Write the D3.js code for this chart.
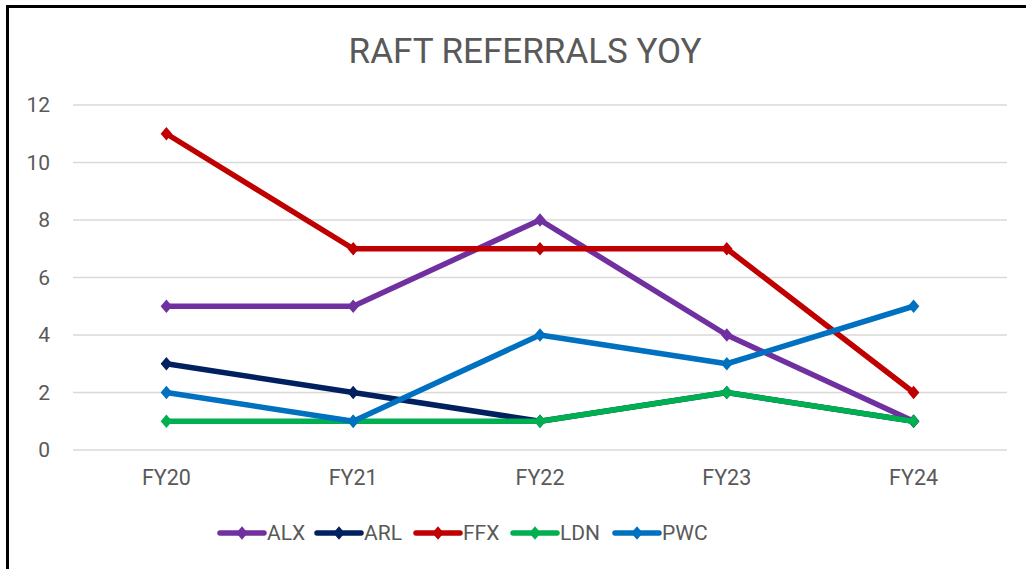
<!DOCTYPE html>
<html>
<head>
<meta charset="utf-8">
<script src="https://cdn.jsdelivr.net/npm/d3@7"></script>
<style>
  body { margin: 0; background: #fff; }
  text { font-family: Roboto, "Liberation Sans", sans-serif; fill: #595959; }
</style>
</head>
<body>
<div id="chart"></div>
<script>
// Data
const YEARS = ["FY20", "FY21", "FY22", "FY23", "FY24"];
const ALX = [5, 5, 8, 4, 1];
const ARL = [3, 2, 1, 2, 1];
const FFX = [11, 7, 7, 7, 2];
const LDN = [1, 1, 1, 2, 1];
const PWC = [2, 1, 4, 3, 5];
const Y_TICKS = [0, 2, 4, 6, 8, 10, 12];

const SERIES = [
  { name: "ALX", values: ALX, color: "#7030A0" },
  { name: "ARL", values: ARL, color: "#002060" },
  { name: "FFX", values: FFX, color: "#C00000" },
  { name: "LDN", values: LDN, color: "#00B050" },
  { name: "PWC", values: PWC, color: "#0070C0" },
];

const WIDTH = 1026, HEIGHT = 569;
const plot = { left: 73, right: 1007, top: 105, bottom: 450 };
const FONT = "Roboto, 'Liberation Sans', sans-serif";

const svg = d3.select("#chart").append("svg")
  .attr("width", WIDTH)
  .attr("height", HEIGHT);

// chart border
svg.append("rect")
  .attr("x", 7.5).attr("y", 6.5)
  .attr("width", WIDTH + 10).attr("height", HEIGHT + 10)
  .attr("fill", "#fff")
  .attr("stroke", "#000")
  .attr("stroke-width", 3);

const x = d3.scaleBand().domain(YEARS).range([plot.left, plot.right]).padding(0);
const y = d3.scaleLinear().domain([0, 12]).range([plot.bottom, plot.top]);

// title
svg.append("text")
  .attr("x", 525).attr("y", 63)
  .attr("text-anchor", "middle")
  .attr("font-size", 35)
  .text("RAFT REFERRALS YOY");

// grid
svg.append("g")
  .selectAll("line")
  .data(Y_TICKS)
  .join("line")
  .attr("x1", plot.left).attr("x2", plot.right)
  .attr("y1", (d) => y(d)).attr("y2", (d) => y(d))
  .attr("stroke", "#d9d9d9")
  .attr("stroke-width", 1.5);

// y axis labels
const yAxis = svg.append("g")
  .attr("transform", `translate(${plot.left - 23},0)`)
  .call(d3.axisLeft(y).tickValues(Y_TICKS).tickSize(0).tickPadding(0));
yAxis.select(".domain").remove();
yAxis.selectAll("text").attr("font-size", 21).attr("fill", "#595959")
  .attr("font-family", FONT);

// x axis labels
const xAxis = svg.append("g")
  .attr("transform", `translate(0,${plot.bottom + 20})`)
  .call(d3.axisBottom(x).tickSize(0).tickPadding(0));
xAxis.select(".domain").remove();
xAxis.selectAll("text").attr("font-size", 21.5).attr("fill", "#595959")
  .attr("font-family", FONT);

const cx = (i) => x(YEARS[i]) + x.bandwidth() / 2;
const line = d3.line().x((d, i) => cx(i)).y((d) => y(d));
const diamond = d3.symbol().type(d3.symbolDiamond2).size(100);

// series
const seriesG = svg.append("g")
  .selectAll("g")
  .data(SERIES)
  .join("g");

seriesG.append("path")
  .attr("d", (s) => line(s.values))
  .attr("fill", "none")
  .attr("stroke", (s) => s.color)
  .attr("stroke-width", 5.5)
  .attr("stroke-linejoin", "round")
  .attr("stroke-linecap", "round");

seriesG.selectAll("path.marker")
  .data((s) => s.values.map((v, i) => ({ v, i, color: s.color })))
  .join("path")
  .classed("marker", true)
  .attr("d", diamond)
  .attr("transform", (d) => `translate(${cx(d.i)},${y(d.v)}) scale(0.92,1.08)`)
  .attr("fill", (d) => d.color);

// legend
const LEGEND_X = [220, 317, 416, 513, 615];
const legend = svg.append("g")
  .selectAll("g")
  .data(SERIES)
  .join("g")
  .attr("transform", (d, i) => `translate(${LEGEND_X[i]},533)`);

legend.append("line")
  .attr("x1", 0).attr("x2", 44)
  .attr("stroke", (d) => d.color)
  .attr("stroke-width", 5.5)
  .attr("stroke-linecap", "round");
legend.append("path")
  .attr("d", diamond)
  .attr("transform", "translate(22,0) scale(0.92,1.08)")
  .attr("fill", (d) => d.color);
legend.append("text")
  .attr("x", 47).attr("dy", "0.35em")
  .attr("font-size", 21)
  .text((d) => d.name);
</script>
</body>
</html>
